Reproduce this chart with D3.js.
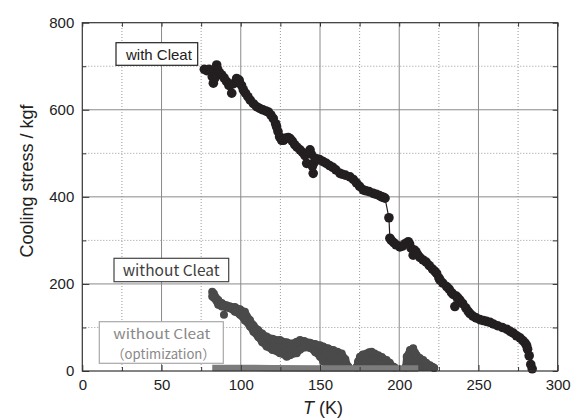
<!DOCTYPE html>
<html>
<head>
<meta charset="utf-8">
<script src="https://cdn.jsdelivr.net/npm/d3@7"></script>
<style>
  html, body { margin: 0; padding: 0; background: #fff; }
  svg { display: block; }
</style>
</head>
<body>
<svg id="chart" width="578" height="419"></svg>
<script>
// Cooling stress measured against temperature T (K)

// Tick values
const xMajorTicks = [0, 50, 100, 150, 200, 250, 300];
const xMinorTicks = [25, 75, 125, 175, 225, 275];
const yMajorTicks = [0, 200, 400, 600, 800];
const yMinorTicks = [100, 300, 500, 700];

// Series names
const seriesNames = ["with Cleat", "without Cleat", "without Cleat", "（optimization）"];

// with Cleat: [T (K), stress (kgf)]
const withCleat = [
  [77,693],[78.5,690],[80,693],[81,688],[82,676],[82.7,661],[83.5,672],[84.8,703],
  [85.5,692],[86.5,685],[88,680],[89.5,673],[91,665],[92.5,656],[94.3,638],[95.5,660],
  [97.4,672],[99,668],[100.5,656],[101.6,646],[103,638],[104.5,630],[106,622],[108,614],
  [110,607],[112,603],[114,600],[116,597],[117.4,595],[119,588],[120.5,580],[122,568],
  [122.6,561],[123.5,550],[124.5,538],[125.8,530],[127,530],[128.5,535],[130,536],[131,534],
  [132.5,528],[134,520],[135.5,514],[137.4,508],[139,502],[140.5,495],[141.6,477],[142.5,500],
  [143.7,508],[144.5,498],[145.2,470],[145.7,454],[146.5,480],[147,488],[148.5,487],[150,485],
  [152,481],[154,477],[156,472],[158,468],[160,462],[162.6,454],[164,452],[166,450],
  [168.9,446],[171,440],[173,432],[175,424],[177.3,416],[179,414],[181,412],[183.6,408],
  [185.5,406],[187.5,403],[189,400],[190,399],[191,397],[193.5,352],[194.1,305],[195,300],
  [196.5,295],[198,290],[200.4,285],[202,287],[203.5,292],[205.7,297],[206.5,292],[207.5,282],
  [208.8,266],[209.5,278],[210.5,274],[211.5,268],[213,261],[215,255],[217,250],[219,242],
  [221,234],[222.5,229],[223.6,224],[225,214],[225.7,209],[227.5,202],[229.9,194],[231.5,188],
  [233,180],[234,176],[235.1,148],[236,172],[237,168],[238.3,163],[240,155],[242,145],
  [243.5,137],[244.6,132],[246.5,126],[248.5,122],[250.9,118],[253,116],[255,114],[257.2,112],
  [259.3,108],[262,104],[265,100],[267.8,96],[270,91],[272,87],[274,81],[276.2,76],
  [278,70],[279.5,64],[280.4,58],[281,50],[282,35],[283,15],[283.9,5]
];

// without Cleat: scatter bands [T, upper point, lower point]
const withoutSeg1 = [
  [82,182,171],[83,178,168],[85.8,163,152],[88,156,148],[91,151,146],[93,149,144],
  [96.3,147,136],[99.5,142,129],[102.6,136,116],[105.8,117,102],[108,105,90],[111,94,78],
  [113.5,86,66],[116.3,79,56],[120,74,48],[124.7,71,41],[129,66,33],[131,63,36],
  [135.3,67,41],[137.4,71,49],[140,69,54],[143.7,65,53],[147,62,43],[150,59,33],
  [152,56,22],[155,52,14],[158.4,48,14],[161,44,14],[163.7,40,14],[166,27,14],[167.8,10,10]
];
const withoutSeg2 = [
  [173,8,8],[174,22,9],[175.2,33,9],[177,38,9],[179.4,40,9],[181,43,9],[182.6,44,9],
  [184.5,40,9],[186.8,36,9],[189,32,9],[192,25,9],[194,19,9],[196.2,10,9],[197,8,8]
];
const withoutSeg3 = [
  [204,8,8],[204.7,33,9],[206.8,48,9],[208.8,52,9],[210,42,9],[211,36,9],[213,30,9],
  [215.1,25,9],[217,19,9],[219.4,13,9],[221,9,9],[222,7,7]
];
const withoutStray = [[89.4,129]];

// without Cleat (optimization): [T, stress]
const optimization = [[82,7],[100,7],[120,6.5],[150,6],[180,6],[212,6]];

const svg = d3.select("#chart");
const X0 = 82.3, X1 = 557.7, Y0 = 371, Y1 = 22.7;
const x = d3.scaleLinear().domain([0, 300]).range([X0, X1]);
const y = d3.scaleLinear().domain([0, 800]).range([Y0, Y1]);

const FONT = "Arial, 'Liberation Sans', sans-serif";
const CJK = "'Noto Sans CJK JP', 'Noto Sans', sans-serif";

// grid
const grid = svg.append("g");
grid.selectAll(".gxm").data(xMinorTicks).join("line")
  .attr("x1", d => x(d)).attr("x2", d => x(d)).attr("y1", Y0).attr("y2", Y1)
  .attr("stroke", "#9a9a9a").attr("stroke-width", 1).attr("stroke-dasharray", "1,2");
grid.selectAll(".gym").data(yMinorTicks).join("line")
  .attr("y1", d => y(d)).attr("y2", d => y(d)).attr("x1", X0).attr("x2", X1)
  .attr("stroke", "#9a9a9a").attr("stroke-width", 1).attr("stroke-dasharray", "1,2");
grid.selectAll(".gxM").data(xMajorTicks.slice(1, -1)).join("line")
  .attr("x1", d => x(d)).attr("x2", d => x(d)).attr("y1", Y0).attr("y2", Y1)
  .attr("stroke", "#8a8a8a").attr("stroke-width", 1);
grid.selectAll(".gyM").data(yMajorTicks.slice(1, -1)).join("line")
  .attr("y1", d => y(d)).attr("y2", d => y(d)).attr("x1", X0).attr("x2", X1)
  .attr("stroke", "#8a8a8a").attr("stroke-width", 1);

// without Cleat bands
const darkGray = "#4a4a4a";
const rWithout = 4;
const area = d3.area().x(d => x(d[0])).y0(d => y(d[2])).y1(d => y(d[1]));
const wg = svg.append("g");
[withoutSeg1, withoutSeg2, withoutSeg3].forEach(seg => {
  wg.append("path").attr("d", area(seg)).attr("fill", darkGray)
    .attr("stroke", darkGray).attr("stroke-width", 7).attr("stroke-linejoin", "round");
  wg.selectAll(null).data(seg).join("circle")
    .attr("cx", d => x(d[0])).attr("cy", d => y(d[1])).attr("r", rWithout).attr("fill", darkGray);
  wg.selectAll(null).data(seg).join("circle")
    .attr("cx", d => x(d[0])).attr("cy", d => y(d[2])).attr("r", rWithout).attr("fill", darkGray);
});
wg.selectAll(null).data(withoutStray).join("circle")
  .attr("cx", d => x(d[0])).attr("cy", d => y(d[1])).attr("r", rWithout).attr("fill", darkGray);

// optimization band
svg.append("path")
  .attr("d", d3.line().x(d => x(d[0])).y(d => y(d[1]))(optimization))
  .attr("fill", "none").attr("stroke", "#7c7c7c").attr("stroke-width", 6.5)
  .attr("stroke-linecap", "butt");

// with Cleat line + markers
const black = "#231f20";
svg.append("path")
  .attr("d", d3.line().x(d => x(d[0])).y(d => y(d[1]))(withCleat))
  .attr("fill", "none").attr("stroke", black).attr("stroke-width", 1.2);
svg.append("g").selectAll("circle").data(withCleat).join("circle")
  .attr("cx", d => x(d[0])).attr("cy", d => y(d[1])).attr("r", 4.8).attr("fill", black);

// axes
function styleAxis(g) {
  g.select(".domain").remove();
  g.selectAll(".tick line").attr("stroke", "#333").attr("stroke-width", 1);
  g.selectAll("text").attr("font-family", FONT).attr("font-size", 15).attr("fill", "#222");
}
svg.append("g").attr("transform", `translate(0,${Y0})`)
  .call(d3.axisBottom(x).tickValues(xMajorTicks).tickSizeInner(-6).tickSizeOuter(0).tickPadding(8).tickFormat(d3.format("d")))
  .call(styleAxis);
svg.append("g").attr("transform", `translate(0,${Y0})`)
  .call(d3.axisBottom(x).tickValues(xMinorTicks).tickSizeInner(-4).tickSizeOuter(0).tickFormat(""))
  .call(styleAxis);
svg.append("g").attr("transform", `translate(${X0},0)`)
  .call(d3.axisLeft(y).tickValues(yMajorTicks).tickSizeInner(-7).tickSizeOuter(0).tickPadding(8).tickFormat(d3.format("d")))
  .call(styleAxis);
svg.append("g").attr("transform", `translate(${X0},0)`)
  .call(d3.axisLeft(y).tickValues(yMinorTicks).tickSizeInner(-4).tickSizeOuter(0).tickFormat(""))
  .call(styleAxis);
svg.append("g").attr("transform", `translate(0,${Y1})`)
  .call(d3.axisTop(x).tickValues(xMajorTicks.concat(xMinorTicks)).tickSizeInner(-4).tickSizeOuter(0).tickFormat(""))
  .call(styleAxis);
svg.append("g").attr("transform", `translate(${X1},0)`)
  .call(d3.axisRight(y).tickValues(yMajorTicks.concat(yMinorTicks)).tickSizeInner(-5).tickSizeOuter(0).tickFormat(""))
  .call(styleAxis);

// frame
svg.append("rect").attr("x", X0).attr("y", Y1).attr("width", X1 - X0).attr("height", Y0 - Y1)
  .attr("fill", "none").attr("stroke", "#333").attr("stroke-width", 1.2);

// axis titles
svg.append("text").attr("transform", "translate(32.5,181) rotate(-90)")
  .attr("text-anchor", "middle").attr("font-family", FONT).attr("font-size", 18).attr("fill", "#222")
  .text("Cooling stress / kgf");
const xt = svg.append("text").attr("x", 323).attr("y", 414).attr("text-anchor", "middle")
  .attr("font-family", FONT).attr("font-size", 18).attr("fill", "#222");
xt.append("tspan").attr("font-style", "italic").text("T");
xt.append("tspan").text(" (K)");

// labels
function labelBox(x0, y0, w, h, stroke) {
  svg.append("rect").attr("x", x0).attr("y", y0).attr("width", w).attr("height", h)
    .attr("fill", "#fff").attr("stroke", stroke).attr("stroke-width", 1.2);
}
labelBox(116, 42.7, 81.7, 22.6, "#222");
svg.append("text").attr("x", 126).attr("y", 59.5).attr("font-family", FONT).attr("font-size", 15)
  .attr("fill", "#222").text(seriesNames[0]);

labelBox(114, 258.3, 114.7, 23.4, "#444");
svg.append("text").attr("x", 122.7).attr("y", 276).attr("font-family", CJK).attr("font-size", 15)
  .attr("fill", "#3e3e3e").attr("textLength", 97).attr("lengthAdjust", "spacingAndGlyphs").text(seriesNames[1]);

labelBox(99.3, 321.7, 124, 41.6, "#a8a8a8");
const opt = svg.append("text").attr("font-family", CJK).attr("font-size", 13.5).attr("fill", "#888");
opt.append("tspan").attr("x", 113.3).attr("y", 338.5)
  .attr("textLength", 97).attr("lengthAdjust", "spacingAndGlyphs").text(seriesNames[2]);
opt.append("tspan").attr("x", 111.5).attr("y", 358.5)
  .attr("textLength", 104).attr("lengthAdjust", "spacingAndGlyphs").text(seriesNames[3]);
</script>
</body>
</html>
